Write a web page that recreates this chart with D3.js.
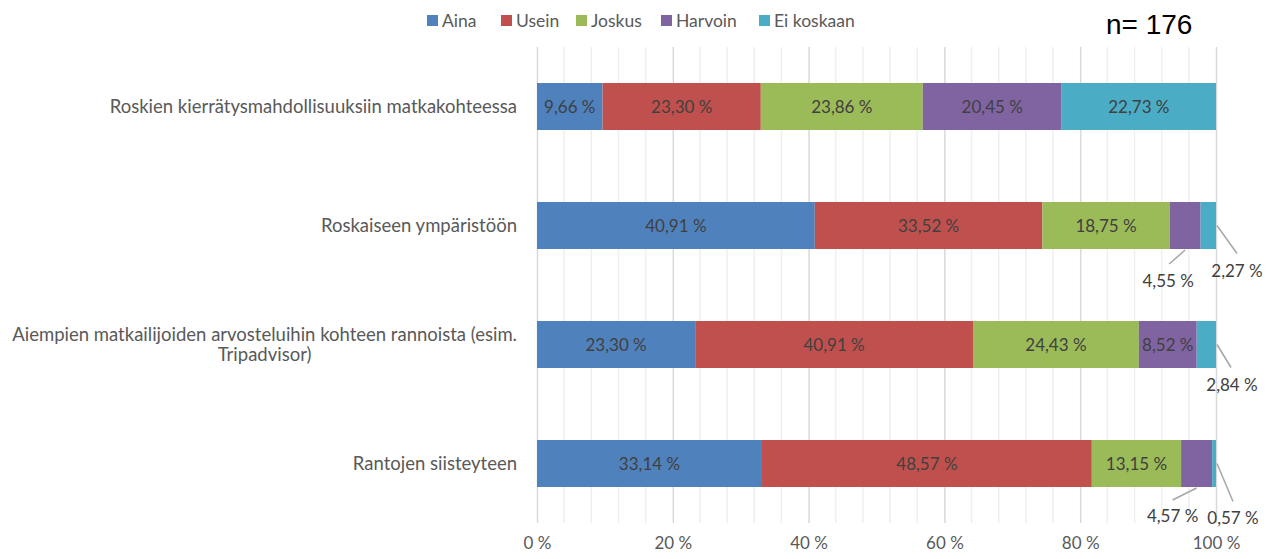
<!DOCTYPE html>
<html>
<head>
<meta charset="utf-8">
<script src="https://cdn.jsdelivr.net/npm/d3@7"></script>
<style>
  html, body { margin: 0; padding: 0; background: #fff; }
  svg { display: block; }
</style>
</head>
<body>
<svg id="chart" width="1281" height="559"></svg>
<script>
// ---- Data ----
const categories = [
  "Roskien kierrätysmahdollisuuksiin matkakohteessa",
  "Roskaiseen ympäristöön",
  "Aiempien matkailijoiden arvosteluihin kohteen rannoista (esim. Tripadvisor)",
  "Rantojen siisteyteen"
];
const categoryLines = [
  ["Roskien kierrätysmahdollisuuksiin matkakohteessa"],
  ["Roskaiseen ympäristöön"],
  ["Aiempien matkailijoiden arvosteluihin kohteen rannoista (esim.", "Tripadvisor)"],
  ["Rantojen siisteyteen"]
];
const seriesNames = ["Aina", "Usein", "Joskus", "Harvoin", "Ei koskaan"];
const aina      = [9.66, 40.91, 23.30, 33.14];
const usein     = [23.30, 33.52, 40.91, 48.57];
const joskus    = [23.86, 18.75, 24.43, 13.15];
const harvoin   = [20.45, 4.55, 8.52, 4.57];
const eiKoskaan = [22.73, 2.27, 2.84, 0.57];
const xTicks = [0, 20, 40, 60, 80, 100];
const nLabel = "n= 176";

// ---- Styles / layout ----
const colors = ["#4F81BD", "#C0504D", "#9BBB59", "#8064A2", "#4BACC6"];
const FONT = "Lato, 'Open Sans', sans-serif";
// callout offsets for small segments: [row, series, anchor, leaderDx, leaderDy, labelDx, labelDy]
const callouts = [
  [1, 3, "bottom", -16, 14, -17, 31],
  [1, 4, "right", 20, 28, 20, 45],
  [2, 4, "right", 14, 23, 15, 40],
  [3, 3, "bottom", -24, 12, -24, 28],
  [3, 4, "right", 16, 38, 16, 54]
];

const seriesValues = [aina, usein, joskus, harvoin, eiKoskaan];
const rows = categories.map((c, i) => {
  const r = { cat: c };
  seriesNames.forEach((s, j) => r[s] = seriesValues[j][i]);
  return r;
});
const stacked = d3.stack().keys(seriesNames)(rows);

const svg = d3.select("#chart");
const plotLeft = 537, plotRight = 1216, plotTop = 47, plotBottom = 523;

const x = d3.scaleLinear().domain([0, 100]).range([plotLeft, plotRight]);
const y = d3.scaleBand().domain(categories).range([plotTop, plotBottom])
  .paddingInner(0.605).paddingOuter(0.3025);

const fmt = v => v.toFixed(2).replace(".", ",") + " %";

// gridlines: minor every 4%, major every 20%
const minor = d3.range(0, 101, 4).filter(v => v % 20 !== 0);
svg.append("g").selectAll("line").data(minor).join("line")
  .attr("x1", d => x(d)).attr("x2", d => x(d))
  .attr("y1", plotTop).attr("y2", plotBottom)
  .attr("stroke", "#efefef").attr("stroke-width", 1.5);

const xAxis = d3.axisBottom(x).tickValues(xTicks).tickSize(-(plotBottom - plotTop))
  .tickFormat(d => d + " %").tickPadding(14);
const ax = svg.append("g").attr("transform", `translate(0,${plotBottom})`).call(xAxis);
ax.select(".domain").remove();
ax.selectAll(".tick line").attr("stroke", "#d9d9d9").attr("stroke-width", 1.5);
ax.selectAll(".tick text").attr("fill", "#595959").attr("font-family", FONT)
  .attr("font-size", 17);

// bars
const g = svg.append("g");
stacked.forEach((layer, j) => {
  g.selectAll(null).data(layer).join("rect")
    .attr("x", d => x(d[0]))
    .attr("y", d => y(d.data.cat))
    .attr("width", d => x(d[1]) - x(d[0]))
    .attr("height", y.bandwidth())
    .attr("fill", colors[j]);
});

// inside labels
const isCallout = (i, j) => callouts.some(c => c[0] === i && c[1] === j);
stacked.forEach((layer, j) => {
  layer.forEach((d, i) => {
    if (isCallout(i, j)) return;
    g.append("text")
      .attr("x", (x(d[0]) + x(d[1])) / 2)
      .attr("y", y(d.data.cat) + y.bandwidth() / 2)
      .attr("dy", "0.36em")
      .attr("text-anchor", "middle")
      .attr("font-family", FONT).attr("font-size", 17)
      .attr("fill", "#404040")
      .text(fmt(d[1] - d[0]));
  });
});

// callouts
callouts.forEach(([i, j, anchor, ldx, ldy, tdx, tdy]) => {
  const d = stacked[j][i];
  let sx, sy;
  if (anchor === "bottom") {
    sx = (x(d[0]) + x(d[1])) / 2;
    sy = y(d.data.cat) + y.bandwidth() + 1;
  } else {
    sx = x(d[1]) + 1;
    sy = y(d.data.cat) + y.bandwidth() / 2;
  }
  g.append("line")
    .attr("x1", sx).attr("y1", sy)
    .attr("x2", sx + ldx).attr("y2", sy + ldy)
    .attr("stroke", "#a6a6a6").attr("stroke-width", 1.5);
  g.append("text")
    .attr("x", sx + tdx).attr("y", sy + tdy).attr("dy", "0.36em")
    .attr("text-anchor", "middle")
    .attr("font-family", FONT).attr("font-size", 17)
    .attr("fill", "#404040")
    .text(fmt(d[1] - d[0]));
});

// category labels
categories.forEach((c, i) => {
  const lines = categoryLines[i];
  const cy = y(c) + y.bandwidth() / 2;
  const lh = 20;
  const t = svg.append("text")
    .attr("font-family", FONT).attr("font-size", 18.5).attr("fill", "#595959");
  lines.forEach((ln, k) => {
    t.append("tspan").attr("x", 517).attr("y", cy + (k - (lines.length - 1) / 2) * lh)
      .attr("dy", "0.36em").attr("text-anchor", "end").text(ln);
  });
  if (lines.length > 1) {
    // center lines within the right-aligned block
    const widths = t.selectAll("tspan").nodes().map(n => n.getComputedTextLength());
    const maxW = Math.max(...widths);
    t.selectAll("tspan").each(function(_, k) {
      d3.select(this).attr("x", 517 - (maxW - widths[k]) / 2);
    });
  }
});

// legend
const legendX = [427, 501, 576, 661, 759];
const lg = svg.append("g");
seriesNames.forEach((s, j) => {
  lg.append("rect").attr("x", legendX[j]).attr("y", 15).attr("width", 11).attr("height", 11)
    .attr("fill", colors[j]);
  lg.append("text").attr("x", legendX[j] + 15).attr("y", 20.5).attr("dy", "0.36em")
    .attr("font-family", FONT).attr("font-size", 17.5).attr("fill", "#595959").text(s);
});

// n label
svg.append("text").attr("x", 1106).attr("y", 34)
  .attr("font-family", "'Liberation Sans', Arial, sans-serif").attr("font-size", 28)
  .attr("fill", "#000").text(nLabel);
</script>
</body>
</html>
